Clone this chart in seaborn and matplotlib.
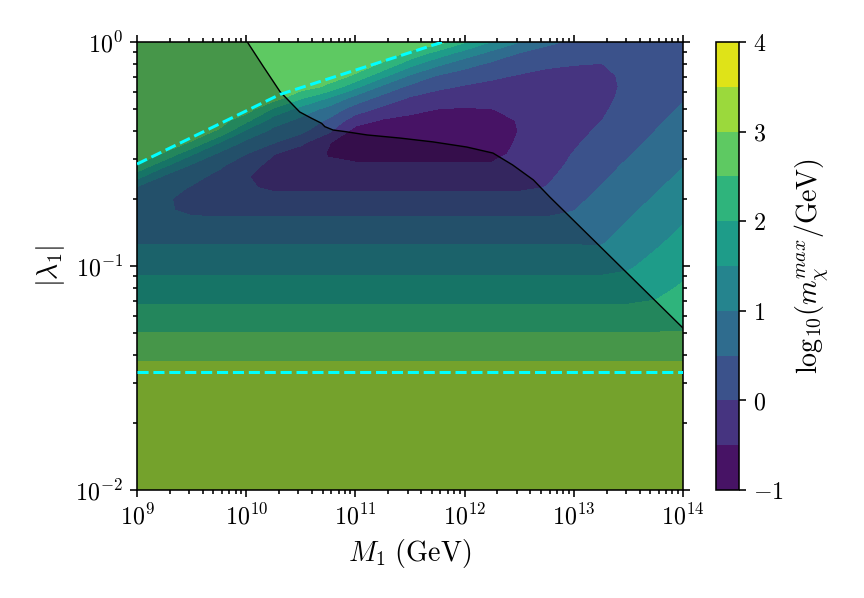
import numpy as np
import matplotlib
matplotlib.use("Agg")
import matplotlib.pyplot as plt
import matplotlib.transforms as mtransforms
from matplotlib.ticker import FuncFormatter, NullFormatter
import seaborn as sns

sns.set_theme(style="ticks")
plt.rcParams["font.family"] = ["DejaVu Serif"]
plt.rcParams["mathtext.fontset"] = "cm"
plt.rcParams["axes.linewidth"] = 0.8
for key in ["axes.edgecolor", "xtick.color", "ytick.color", "axes.labelcolor", "text.color"]:
    plt.rcParams[key] = "black"

# grid: log10(M1/GeV) columns, log10|lambda1| rows
log_m1 = [9.0, 9.25, 9.5, 9.75, 10.0, 10.25, 10.5, 10.75, 11.0, 11.25, 11.5, 11.75,
          12.0, 12.25, 12.5, 12.75, 13.0, 13.25, 13.5, 13.75, 14.0]
log_lam = [-2.0, -1.5, -1.4, -1.3, -1.2, -1.1, -1.0, -0.9, -0.8, -0.75,
           -0.7, -0.65, -0.6, -0.55, -0.5, -0.45, -0.4, -0.35, -0.3, -0.25,
           -0.2, -0.15, -0.1, -0.05, 0.0]

# log10(m_chi^max / GeV), one row per log_lam value
log_mchi = [
    [3.25, 3.25, 3.25, 3.25, 3.25, 3.25, 3.25, 3.25, 3.25, 3.25, 3.25, 3.25, 3.25, 3.25, 3.25, 3.25, 3.25, 3.25, 3.25, 3.25, 3.25],
    [3.25, 3.25, 3.25, 3.25, 3.25, 3.25, 3.25, 3.25, 3.25, 3.25, 3.25, 3.25, 3.25, 3.25, 3.25, 3.25, 3.25, 3.25, 3.25, 3.25, 3.25],
    [2.92, 2.92, 2.92, 2.92, 2.92, 2.92, 2.92, 2.92, 2.92, 2.92, 2.92, 2.92, 2.92, 2.92, 2.92, 2.92, 2.92, 2.92, 2.92, 2.92, 2.92],
    [2.52, 2.52, 2.52, 2.52, 2.52, 2.52, 2.52, 2.52, 2.52, 2.52, 2.52, 2.52, 2.52, 2.52, 2.52, 2.52, 2.52, 2.52, 2.52, 2.52, 2.52],
    [2.12, 2.12, 2.12, 2.12, 2.12, 2.12, 2.12, 2.12, 2.12, 2.12, 2.12, 2.12, 2.12, 2.12, 2.12, 2.12, 2.12, 2.12, 2.12, 2.12, 2.25],
    [1.72, 1.72, 1.72, 1.72, 1.72, 1.72, 1.72, 1.72, 1.72, 1.72, 1.72, 1.72, 1.72, 1.72, 1.72, 1.72, 1.72, 1.72, 1.72, 1.87, 2.06],
    [1.34, 1.34, 1.34, 1.34, 1.34, 1.34, 1.34, 1.34, 1.34, 1.34, 1.34, 1.34, 1.34, 1.34, 1.34, 1.34, 1.34, 1.34, 1.44, 1.65, 1.86],
    [0.98, 0.98, 0.98, 0.98, 0.98, 0.98, 0.98, 0.98, 0.98, 0.98, 0.98, 0.98, 0.98, 0.98, 0.98, 0.98, 0.98, 0.97, 1.22, 1.44, 1.66],
    [0.72, 0.64, 0.58, 0.58, 0.58, 0.58, 0.58, 0.58, 0.58, 0.58, 0.58, 0.58, 0.58, 0.58, 0.58, 0.58, 0.60, 0.80, 1.01, 1.24, 1.47],
    [0.64, 0.55, 0.42, 0.38, 0.37, 0.37, 0.37, 0.37, 0.37, 0.37, 0.37, 0.37, 0.37, 0.37, 0.37, 0.37, 0.49, 0.71, 0.92, 1.14, 1.37],
    [0.68, 0.55, 0.38, 0.24, 0.16, 0.14, 0.14, 0.14, 0.14, 0.14, 0.14, 0.14, 0.14, 0.14, 0.14, 0.14, 0.39, 0.61, 0.83, 1.04, 1.27],
    [0.93, 0.70, 0.46, 0.24, 0.05, -0.07, -0.07, -0.07, -0.07, -0.07, -0.07, -0.07, -0.07, -0.07, -0.07, 0.01, 0.28, 0.52, 0.74, 0.95, 1.17],
    [1.67, 0.93, 0.67, 0.36, 0.03, -0.20, -0.26, -0.26, -0.26, -0.26, -0.26, -0.26, -0.26, -0.26, -0.26, -0.08, 0.17, 0.43, 0.65, 0.86, 1.07],
    [2.48, 1.61, 0.94, 0.60, 0.20, -0.15, -0.40, -0.45, -0.45, -0.45, -0.45, -0.45, -0.45, -0.45, -0.35, -0.15, 0.08, 0.35, 0.56, 0.77, 0.98],
    [2.75, 2.45, 1.56, 0.91, 0.50, 0.02, -0.30, -0.52, -0.63, -0.63, -0.63, -0.63, -0.63, -0.63, -0.40, -0.21, 0.02, 0.26, 0.47, 0.69, 0.89],
    [2.75, 2.75, 2.45, 1.49, 0.86, 0.52, 0.11, -0.48, -0.70, -0.70, -0.70, -0.70, -0.70, -0.68, -0.45, -0.26, -0.06, 0.17, 0.38, 0.60, 0.80],
    [2.75, 2.75, 2.75, 2.42, 1.37, 0.84, 0.60, 0.08, -0.72, -0.74, -0.75, -0.75, -0.75, -0.68, -0.49, -0.30, -0.14, 0.08, 0.30, 0.51, 0.72],
    [2.75, 2.75, 2.75, 2.75, 2.14, 1.25, 0.87, 0.43, -0.27, -0.55, -0.62, -0.64, -0.68, -0.62, -0.48, -0.32, -0.20, -0.01, 0.22, 0.43, 0.63],
    [2.75, 2.75, 2.75, 2.75, 2.75, 1.92, 1.30, 0.83, 0.26, -0.13, -0.38, -0.505, -0.54, -0.505, -0.43, -0.32, -0.22, -0.06, 0.15, 0.36, 0.55],
    [2.75, 2.75, 2.75, 2.75, 2.75, 2.75, 2.07, 1.49, 0.81, 0.32, -0.05, -0.215, -0.29, -0.32, -0.33, -0.29, -0.22, -0.09, 0.09, 0.29, 0.47],
    [2.75, 2.75, 2.75, 2.75, 2.75, 2.75, 2.75, 2.40, 1.63, 0.88, 0.38, 0.10, -0.05, -0.13, -0.19, -0.22, -0.19, -0.10, 0.06, 0.23, 0.40],
    [2.75, 2.75, 2.75, 2.75, 2.75, 2.75, 2.75, 2.75, 2.44, 1.65, 0.95, 0.48, 0.27, 0.09, -0.03, -0.10, -0.10, -0.07, 0.06, 0.20, 0.34],
    [2.75, 2.75, 2.75, 2.75, 2.75, 2.75, 2.75, 2.75, 2.75, 2.43, 1.66, 1.10, 0.67, 0.39, 0.22, 0.06, 0.01, -0.01, 0.10, 0.19, 0.30],
    [2.75, 2.75, 2.75, 2.75, 2.75, 2.75, 2.75, 2.75, 2.75, 2.75, 2.42, 1.80, 1.29, 0.85, 0.48, 0.30, 0.20, 0.10, 0.18, 0.21, 0.28],
    [2.75, 2.75, 2.75, 2.75, 2.75, 2.75, 2.75, 2.75, 2.75, 2.75, 2.75, 2.75, 2.05, 1.47, 1.02, 0.62, 0.40, 0.30, 0.28, 0.26, 0.28],
]

# black boundary curve (log10 M1, log10 lambda)
edge_log_m1 = [10.01, 10.157, 10.31, 10.49, 10.60, 10.69, 10.72, 10.795, 10.905,
               11.106, 11.41, 11.71, 12.02, 12.26, 12.44, 12.63, 12.78, 14.0]
edge_log_lam = [0.0, -0.110, -0.222, -0.3125, -0.341, -0.363, -0.378, -0.393, -0.400,
                -0.415, -0.429, -0.446, -0.469, -0.496, -0.549, -0.616, -0.692, -1.277]

# cyan dashed limits
upper_log_m1 = [9.0, 10.31, 11.80]
upper_log_lam = [-0.545, -0.234, 0.0]
lower_lambda = 0.0336

levels = np.arange(-1.0, 4.01, 0.5)


class Pow10(mtransforms.Transform):
    # grid is given in log10 units, so the contours are interpolated in log space
    input_dims = 2
    output_dims = 2
    is_separable = True

    def transform_non_affine(self, values):
        return np.power(10.0, values)


Z = np.array(log_mchi)
edge_m = 10.0 ** np.array(edge_log_m1)
edge_l = 10.0 ** np.array(edge_log_lam)

fig = plt.figure(figsize=(6.0, 598 / 144), dpi=144)
ax = fig.add_axes([0.1586, 0.1806, 0.6319, 0.7492])
cax = fig.add_axes([0.8287, 0.1806, 0.0266, 0.7492])

ax.set_xscale("log")
ax.set_yscale("log")
ax.set_xlim(1e9, 1e14)
ax.set_ylim(1e-2, 1e0)

cmap = sns.color_palette("viridis", as_cmap=True)
cs = ax.contourf(log_m1, log_lam, Z, levels=levels, cmap=cmap,
                 transform=Pow10() + ax.transData)

# shaded region left of / below the boundary
shade_m = np.concatenate([edge_m, [1e14, 1e9, 1e9]])
shade_l = np.concatenate([edge_l, [1e-2, 1e-2, 1e0]])
ax.fill(shade_m, shade_l, color="black", alpha=0.25, lw=0, zorder=2)

sns.lineplot(x=edge_m, y=edge_l, color="black", lw=0.7, sort=False,
             estimator=None, ax=ax, zorder=3)
sns.lineplot(x=10.0 ** np.array(upper_log_m1), y=10.0 ** np.array(upper_log_lam),
             color="cyan", lw=1.5, linestyle="--", sort=False, estimator=None,
             ax=ax, zorder=4)
ax.axhline(lower_lambda, color="cyan", lw=1.5, ls="--", zorder=4)

ax.set_xlim(1e9, 1e14)
ax.set_ylim(1e-2, 1e0)

pow10 = FuncFormatter(lambda x, _: r"$10^{%d}$" % int(round(np.log10(x))))
ax.xaxis.set_major_formatter(pow10)
ax.yaxis.set_major_formatter(pow10)
ax.xaxis.set_minor_formatter(NullFormatter())
ax.yaxis.set_minor_formatter(NullFormatter())
ax.tick_params(which="both", direction="out", top=True, right=True,
               labelsize=12, width=0.8)
ax.tick_params(which="major", length=3.5)
ax.tick_params(which="minor", length=2)

ax.set_xlabel(r"$M_1\ (\mathrm{GeV})$", fontsize=14)
ax.set_ylabel(r"$|\lambda_1|$", fontsize=14)

cb = fig.colorbar(cs, cax=cax, ticks=np.arange(-1, 5))
cb.ax.yaxis.set_major_formatter(FuncFormatter(lambda v, _: r"$%g$" % v))
cb.ax.tick_params(labelsize=12, direction="out", width=0.8, length=3.5)
cb.outline.set_linewidth(0.8)
cb.set_label(r"$\mathrm{log}_{10}(m_\chi^{max}/\mathrm{GeV})$", fontsize=14)

fig.savefig("out.png", dpi=144)
